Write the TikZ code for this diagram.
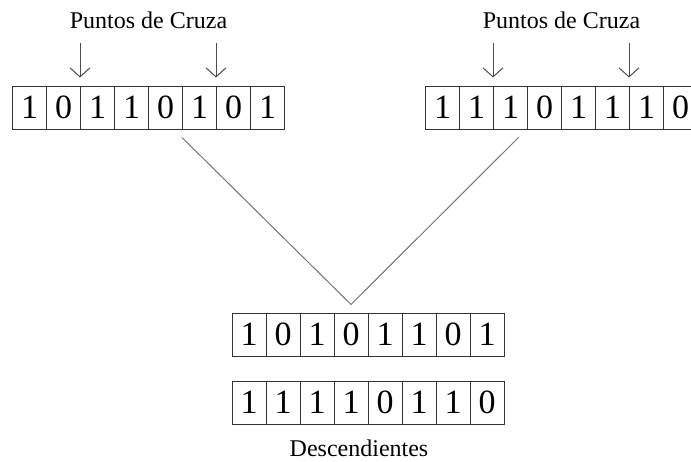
\documentclass[tikz,border=0pt]{standalone}
\usepackage{fontspec}
\setmainfont{Liberation Serif}
\usetikzlibrary{arrows.meta}

\begin{document}
\begin{tikzpicture}[x=0.5pt,y=-0.5pt,
    cell/.style={draw=black!80,line width=0.5pt,minimum width=17pt,minimum height=21.5pt,inner sep=0pt,font=\fontsize{17}{17}\selectfont},
    titulo/.style={inner sep=0pt,anchor=base,font=\fontsize{12}{12}\selectfont},
    cruce/.style={draw=black!70,line width=0.5pt,-{Straight Barb[length=4.5pt,width=10pt]}},
    rama/.style={draw=black!55,line width=0.5pt}]
      \useasboundingbox (0,0) rectangle (691,461);
      % padres
      \foreach \b [count=\i] in {1,0,1,1,0,1,0,1}
        \node[cell] (l\i) at (12.5+34*\i-17,107.5) {\b};
      \foreach \b [count=\i] in {1,1,1,0,1,1,1,0}
        \node[cell] (r\i) at (425.5+34*\i-17,107.5) {\b};
      % descendientes
      \foreach \b [count=\i] in {1,0,1,0,1,1,0,1}
        \node[cell] (a\i) at (232+34*\i-17,334.5) {\b};
      \foreach \b [count=\i] in {1,1,1,1,0,1,1,0}
        \node[cell] (b\i) at (232+34*\i-17,402.5) {\b};
      \node[titulo] (pl) at (148.5,28) {Puntos de Cruza};
      \node[titulo] (pr) at (561.5,28) {Puntos de Cruza};
      \node[titulo] (desc) at (359,456) {Descendientes};
      % puntos de cruza
      \foreach \n in {l3,l7,r3,r7}
        \draw[cruce] ([yshift=21.5pt]\n.north west) -- ([yshift=4pt]\n.north west);
      \coordinate (vl) at ([yshift=-4pt]l6.south west);
      \coordinate (vr) at ([xshift=-4.25pt,yshift=-4pt]r4.south west);
      \coordinate (vc) at ([yshift=4pt]a4.north);
      \draw[rama] (vl) -- (vc) -- (vr);
\end{tikzpicture}
\end{document}
